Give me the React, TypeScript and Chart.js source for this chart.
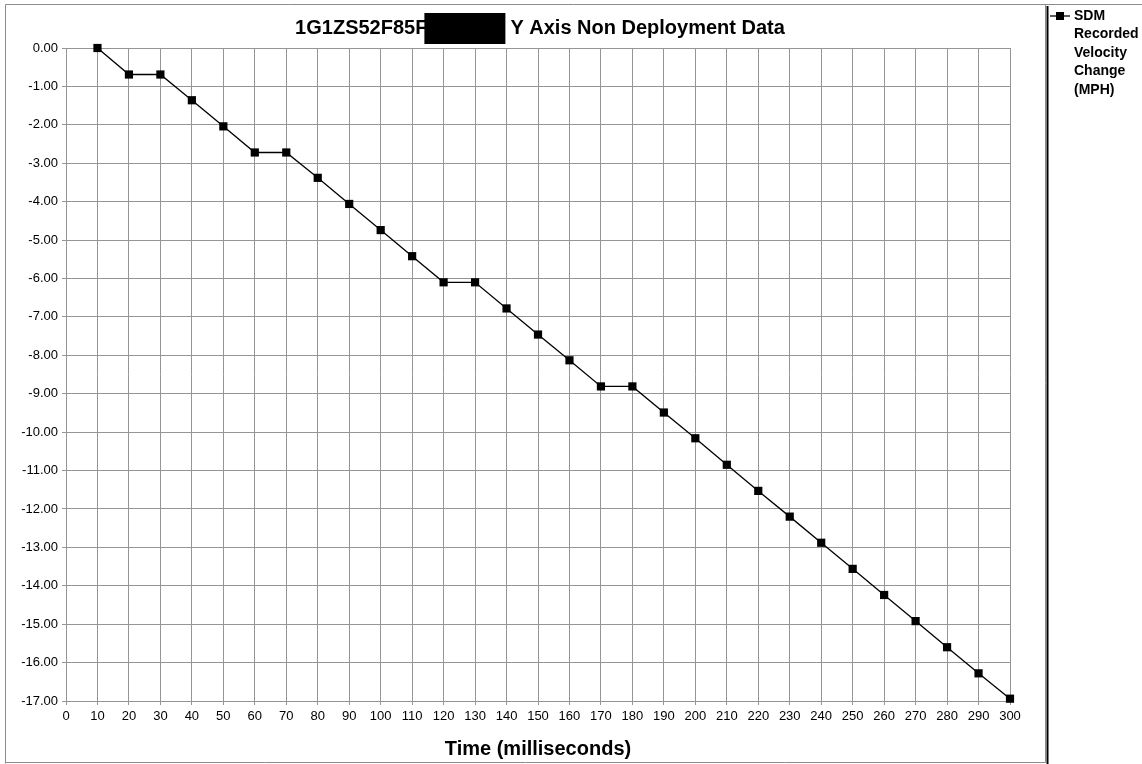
import React, { useEffect, useRef } from "react";
import { Chart, registerables } from "chart.js";

Chart.register(...registerables);

const timesMs = [10, 20, 30, 40, 50, 60, 70, 80, 90, 100, 110, 120, 130, 140, 150, 160, 170, 180, 190, 200, 210, 220, 230, 240, 250, 260, 270, 280, 290, 300];
const velocityChange = [0, -0.69, -0.69, -1.36, -2.04, -2.72, -2.72, -3.38, -4.06, -4.74, -5.42, -6.1, -6.1, -6.78, -7.46, -8.13, -8.81, -8.81, -9.49, -10.16, -10.85, -11.53, -12.2, -12.88, -13.56, -14.24, -14.92, -15.6, -16.28, -16.94];
const titleLeft = "1G1ZS52F85F";
const titleRight = "Y Axis Non Deployment Data";
const xAxisTitle = "Time (milliseconds)";
const legendLines = ["SDM", "Recorded", "Velocity", "Change", "(MPH)"];

const FONT = "'Liberation Sans', Arial, Helvetica, sans-serif";
const GRID = "#959595";

const decorPlugin = {
  id: "decor",
  beforeDraw(chart: any) {
    const ctx = chart.ctx;
    ctx.save();
    ctx.fillStyle = "#ffffff";
    ctx.fillRect(0, 0, chart.width, chart.height);
    ctx.restore();
  },
  afterDraw(chart: any) {
    const ctx = chart.ctx;
    const area = chart.chartArea;
    ctx.save();
    // outer frame
    ctx.strokeStyle = "#8c8c8c";
    ctx.lineWidth = 1;
    ctx.beginPath();
    ctx.moveTo(5.5, 763.5);
    ctx.lineTo(5.5, 4.5);
    ctx.lineTo(1142, 4.5);
    ctx.moveTo(5.5, 762.5);
    ctx.lineTo(1045.5, 762.5);
    ctx.lineTo(1045.5, 4.5);
    ctx.stroke();
    // legend separator
    ctx.strokeStyle = "#000000";
    ctx.lineWidth = 2;
    ctx.beginPath();
    ctx.moveTo(1047.5, 6);
    ctx.lineTo(1047.5, 764);
    ctx.stroke();

    // title
    const cx = (area.left + area.right) / 2;
    ctx.font = `bold 20px ${FONT}`;
    ctx.fillStyle = "#000000";
    ctx.textBaseline = "middle";
    const gap = 83;
    const wl = ctx.measureText(titleLeft).width;
    const wr = ctx.measureText(titleRight).width;
    const total = wl + gap + wr;
    const x0 = cx - total / 2 + 2;
    ctx.textAlign = "left";
    ctx.fillText(titleLeft, x0, 28);
    ctx.fillText(titleRight, x0 + wl + gap, 28);
    ctx.fillRect(x0 + wl - 3, 13, 81, 31);

    // x axis title
    ctx.textAlign = "center";
    ctx.fillText(xAxisTitle, cx, 749);

    // legend
    ctx.lineWidth = 1.3;
    ctx.beginPath();
    ctx.moveTo(1050, 16);
    ctx.lineTo(1070, 16);
    ctx.stroke();
    ctx.fillRect(1056, 12, 8, 8);
    ctx.font = `bold 14px ${FONT}`;
    ctx.textAlign = "left";
    legendLines.forEach((t, i) => {
      ctx.fillText(t, 1074, 16 + i * 18.5);
    });
    ctx.restore();
  },
};

export default function App() {
  const ref = useRef<HTMLCanvasElement | null>(null);
  useEffect(() => {
    if (!ref.current) return;
    const chart = new Chart(ref.current, {
      type: "line",
      data: {
        datasets: [
          {
            label: "SDM Recorded Velocity Change (MPH)",
            data: timesMs.map((t, i) => ({ x: t, y: velocityChange[i] })),
            borderColor: "#000000",
            backgroundColor: "#000000",
            borderWidth: 1.3,
            pointStyle: "rect",
            pointRadius: 5.8,
            pointBorderWidth: 0,
            pointBackgroundColor: "#000000",
            tension: 0,
            fill: false,
            clip: false,
          } as any,
        ],
      },
      options: {
        animation: false,
        responsive: false,
        maintainAspectRatio: false,
        devicePixelRatio: 1,
        layout: { padding: { left: 0, top: 48, right: 132, bottom: 33 } },
        plugins: {
          legend: { display: false },
          title: { display: false },
          tooltip: { enabled: false },
        },
        scales: {
          x: {
            type: "linear",
            min: 0,
            max: 300,
            afterFit: (s: any) => {
              s.height = 30;
            },
            ticks: {
              stepSize: 10,
              autoSkip: false,
              maxRotation: 0,
              color: "#000000",
              font: { family: FONT, size: 13 },
              padding: 4,
            },
            grid: { color: GRID, lineWidth: 1, tickLength: 4, tickColor: GRID },
            border: { display: true, color: GRID, width: 1 },
          },
          y: {
            type: "linear",
            min: -17,
            max: 0,
            afterFit: (s: any) => {
              s.width = 66;
            },
            ticks: {
              stepSize: 1,
              color: "#000000",
              font: { family: FONT, size: 13 },
              padding: 4,
              callback: (v: any) => Number(v).toFixed(2),
            },
            grid: { color: GRID, lineWidth: 1, tickLength: 4, tickColor: GRID },
            border: { display: true, color: GRID, width: 1 },
          },
        },
      },
      plugins: [decorPlugin],
    });
    return () => chart.destroy();
  }, []);
  return (
    <div style={{ position: "absolute", left: 0, top: 0, width: 1142, height: 764, overflow: "hidden" }}>
      <canvas ref={ref} width={1142} height={764} style={{ display: "block", width: 1142, height: 764 }} />
    </div>
  );
}
